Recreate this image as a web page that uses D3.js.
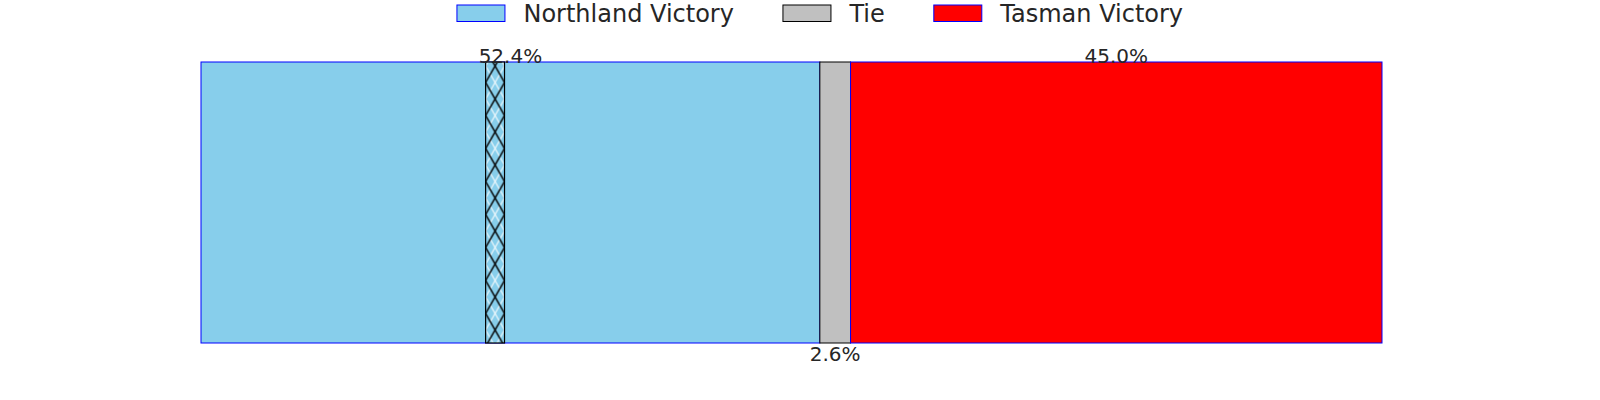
<!DOCTYPE html>
<html>
<head>
<meta charset="utf-8">
<script src="https://cdn.jsdelivr.net/npm/d3@7/dist/d3.min.js"></script>
<style>
  html, body { margin: 0; padding: 0; background: #fff; }
  svg { display: block; font-family: "DejaVu Sans", sans-serif; }
</style>
</head>
<body>
<svg id="chart" width="1600" height="400"></svg>
<script>
// ---- data ----
const categories = ["Northland Victory", "Tie", "Tasman Victory"];
const percentages = [52.4, 2.6, 45.0];
const percentLabels = ["52.4%", "2.6%", "45.0%"];
// hatched strip inside the first segment (start %, width %)
const hatchStart = [24.1];
const hatchWidth = [1.6];

// ---- styles ----
const fills = { "Northland Victory": "#87CEEB", "Tie": "#C0C0C0", "Tasman Victory": "#FF0000" };
const edges = { "Northland Victory": "#0000FF", "Tie": "#000000", "Tasman Victory": "#0000FF" };
const textColor = "#262626";

const svg = d3.select("#chart");

const x = d3.scaleLinear().domain([0, 100]).range([201, 1382]);
const y = d3.scaleBand().domain(["result"]).range([62, 343]).padding(0);

// hatch pattern, tile width = strip width so crossings sit at the strip centre
const defs = svg.append("defs");
const stripX0 = x(hatchStart[0]);
const s = x(hatchStart[0] + hatchWidth[0]) - stripX0;
const h = 33;
const pat = defs.append("pattern")
  .attr("id", "xhatch")
  .attr("patternUnits", "userSpaceOnUse")
  .attr("width", s).attr("height", h)
  .attr("x", stripX0).attr("y", 49.5);
pat.append("rect").attr("width", s).attr("height", h).attr("fill", "#87CEEB");
pat.append("path")
  .attr("d", `M${s/2},0 L${s},${h/2} M0,${h/2} L${s/2},${h} M${s/2},0 L0,${h/2} M${s},${h/2} L${s/2},${h}`)
  .attr("stroke", "#ffffff").attr("stroke-width", 1.0).attr("fill", "none");
pat.append("path")
  .attr("d", `M0,0 L${s},${h} M${s},0 L0,${h}`)
  .attr("stroke", "#000000").attr("stroke-width", 1.4).attr("fill", "none");

// stacked segments
let cum = 0;
const segs = categories.map((c, i) => {
  const seg = { cat: c, start: cum, value: percentages[i], label: percentLabels[i] };
  cum += percentages[i];
  return seg;
});

const g = svg.append("g");
g.selectAll("rect.seg").data(segs).enter().append("rect")
  .attr("class", "seg")
  .attr("x", d => x(d.start))
  .attr("y", y("result"))
  .attr("width", d => x(d.start + d.value) - x(d.start))
  .attr("height", y.bandwidth())
  .attr("fill", d => fills[d.cat])
  .attr("stroke", d => edges[d.cat])
  .attr("stroke-width", 1);

// hatched strip
g.selectAll("rect.hatch").data(hatchStart).enter().append("rect")
  .attr("class", "hatch")
  .attr("x", d => x(d))
  .attr("y", y("result"))
  .attr("width", (d, i) => x(d + hatchWidth[i]) - x(d))
  .attr("height", y.bandwidth())
  .attr("fill", "url(#xhatch)")
  .attr("stroke", "#000")
  .attr("stroke-width", 1.2);

// percent labels
g.selectAll("text.pct").data(segs).enter().append("text")
  .attr("class", "pct")
  .attr("x", d => x(d.start + d.value / 2))
  .attr("y", d => d.value < 5 ? 361 : 63)
  .attr("text-anchor", "middle")
  .attr("font-size", 20)
  .attr("fill", textColor)
  .text(d => d.label);

// legend
const legend = svg.append("g");
const patchW = 48, patchH = 16.5, textGap = 18.5, itemGap = 49, fs = 24;
const items = legend.selectAll("g").data(categories).enter().append("g");
items.append("rect")
  .attr("width", patchW).attr("height", patchH)
  .attr("y", 5)
  .attr("fill", d => fills[d])
  .attr("stroke", d => edges[d])
  .attr("stroke-width", 1);
const texts = items.append("text")
  .attr("x", patchW + textGap)
  .attr("y", 21.5)
  .attr("font-size", fs)
  .attr("fill", textColor)
  .text(d => d);
let widths = [];
texts.each(function() { widths.push(this.getComputedTextLength()); });
const total = d3.sum(widths) + categories.length * (patchW + textGap) + (categories.length - 1) * itemGap;
let lx = 820 - total / 2;
items.each(function(d, i) {
  d3.select(this).attr("transform", `translate(${lx},0)`);
  lx += patchW + textGap + widths[i] + itemGap;
});
</script>
</body>
</html>
